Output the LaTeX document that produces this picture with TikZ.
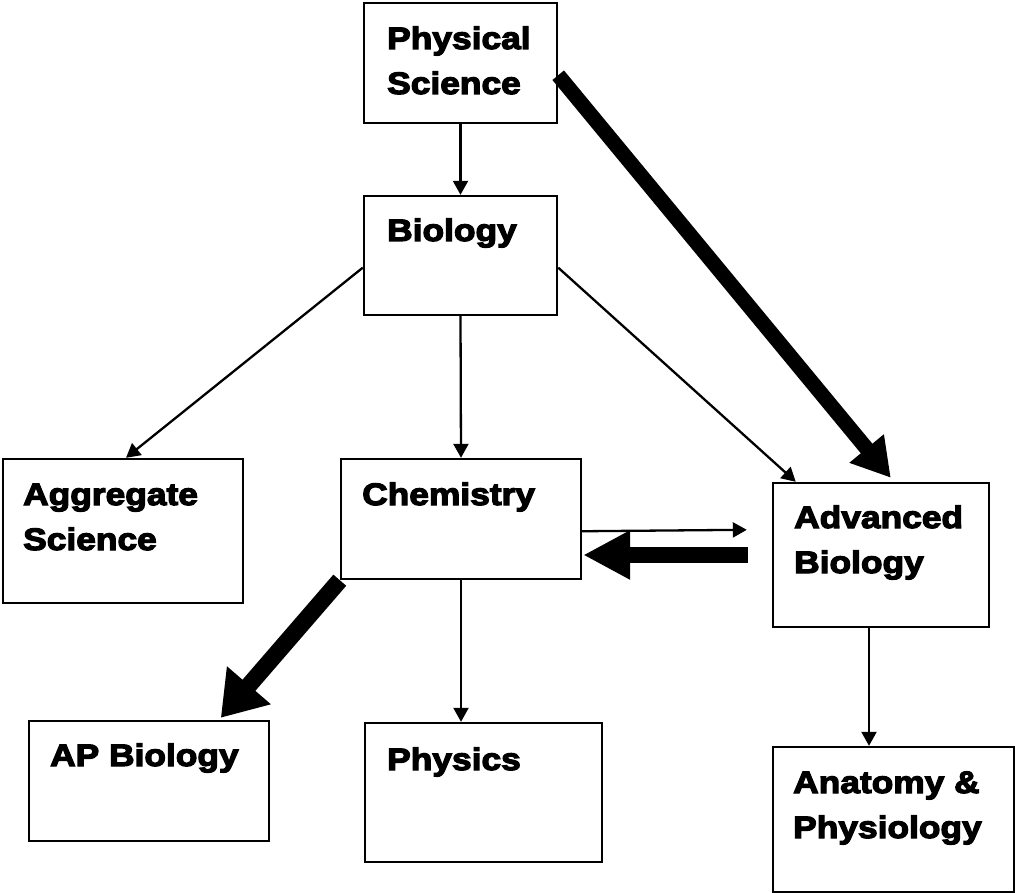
\documentclass[tikz,border=0pt]{standalone}
\usepackage{fontspec}
\newfontfamily\blk{Liberation Sans Bold}[FakeStretch=1.14,FakeBold=4]
\usetikzlibrary{arrows.meta,calc}
\begin{document}
\begin{tikzpicture}[x=1pt,y=-1pt,
  box/.style={draw,line width=2.4pt,rectangle,inner sep=0pt},
  lbl/.style={font=\blk\fontsize{31}{45}\selectfont,align=left,inner sep=0pt,anchor=base west},
  thinarr/.style={line width=2.3pt,-{Triangle[length=14pt,width=15pt]}}]
\useasboundingbox[fill=white] (0,0) rectangle (1015,893);
% boxes
\node[box,minimum width=193pt,minimum height=120pt] (ps)   at (460.5,63)  {};
\node[box,minimum width=193pt,minimum height=119pt] (bio)  at (460.5,255.5) {};
\node[box,minimum width=240pt,minimum height=144pt] (agg)  at (123,531)   {};
\node[box,minimum width=240pt,minimum height=120pt] (chem) at (461,519)   {};
\node[box,minimum width=216pt,minimum height=144pt] (adv)  at (881,555)   {};
\node[box,minimum width=240pt,minimum height=120pt] (ap)   at (149,781)   {};
\node[box,minimum width=237pt,minimum height=139pt] (phys) at (483.5,792.5) {};
\node[box,minimum width=241pt,minimum height=145pt] (anat) at (893.5,819.5) {};
% labels (anchored at the baseline of the last line)
\node[lbl] (pst)   at (387,94)  {Physical\\Science};
\node[lbl] (biot)  at (387,241) {Biology};
\node[lbl] (aggt)  at (23,550)  {Aggregate\\Science};
\node[lbl] (chemt) at (362,505) {Chemistry};
\node[lbl] (advt)  at (794,573) {Advanced\\Biology};
\node[lbl] (apt)   at (50,766)  {AP Biology};
\node[lbl] (physt) at (387,770) {Physics};
\node[lbl] (anatt) at (793,838) {Anatomy \&\\Physiology};
% thin connectors
\draw[thinarr] (ps.south) -- (bio.north);
\draw[thinarr] ($(bio.north west)!0.6!(bio.south west)$) -- ($(agg.north)+(3,0)$);
\draw[thinarr] (bio.south) -- (chem.north);
\draw[thinarr] ($(bio.north east)!0.6!(bio.south east)$) -- ($(adv.north west)+(24,0)$);
\draw[thinarr] ($(chem.north east)!0.6!(chem.south east)$) -- ($(adv.north west)+(-25,48)$);
\draw[thinarr] (chem.south) -- (chem.south |- phys.north);
\draw[thinarr] ($(adv.south)+(-12,0)$) -- ($(adv.south |- anat.north)+(-12,0)$);
% thick connectors
\draw[line width=15pt,-{Triangle[length=38pt,width=42pt]}] ($(ps.north east)!0.6!(ps.south east)$) -- ($(adv.north west)+(119,-4)$);
\draw[line width=16pt,-{Triangle[length=47pt,width=46pt]}] ($(adv.west)+(-24,0)$) -- ($(chem.east |- adv.west)+(1,0)$);
\draw[line width=17pt,-{Triangle[length=43pt,width=55pt]}] (chem.south west) -- ($(ap.north west)+(193,-2)$);
\end{tikzpicture}
\end{document}
